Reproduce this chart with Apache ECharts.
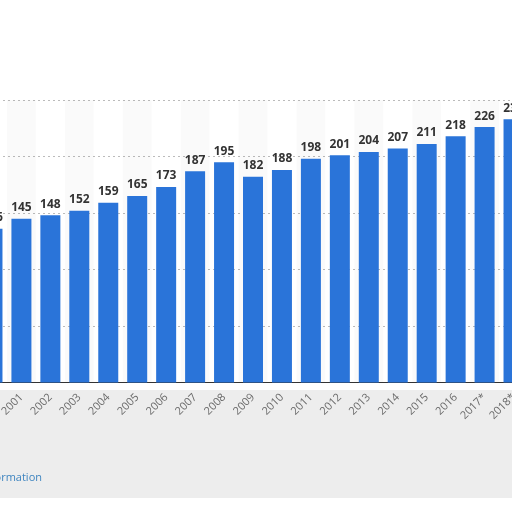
<!DOCTYPE html>
<html>
<head>
<meta charset="utf-8">
<script src="https://cdn.jsdelivr.net/npm/echarts@6/dist/echarts.min.js"></script>
<style>
  html, body { margin: 0; padding: 0; background: #fff; overflow: hidden; }
  #main { position: absolute; left: -22px; top: 0; width: 550px; height: 512px; }
</style>
</head>
<body>
<div id="main"></div>
<script>
  // data
  var years = ['2000','2001','2002','2003','2004','2005','2006','2007','2008','2009',
               '2010','2011','2012','2013','2014','2015','2016','2017*','2018*']
  var values = [136,145,148,152,159,165,173,187,195,182,188,198,201,204,207,211,218,226,233]
  var yTicks = [0, 50, 100, 150, 200, 250]

  var myChart = echarts.init(document.getElementById('main'))

  var option = {
      animation: false,
      grid: { left: 0, right: 0, top: 100, bottom: 129.5, outerBoundsMode: 'none', containLabel: false },
      graphic: [
          { // grey band under the axis
              type: 'rect', z: -10, silent: true,
              shape: { x: 22, y: 390, width: 520, height: 108 },
              style: { fill: '#ededed' }
          },
          {
              type: 'text', right: 486, top: 472,
              style: { text: 'Additional Information', fill: '#3f85c0', fontSize: 11, fontFamily: 'Open Sans' }
          }
      ],
      xAxis: {
          type: 'category',
          data: years,
          axisTick: { show: false },
          axisLine: { lineStyle: { color: '#333', width: 1 } },
          axisLabel: { rotate: 45, color: '#6a6a6a', fontSize: 11, margin: 13, fontFamily: 'Open Sans' },
          // transparent bands so the dotted grid shows through
          splitArea: { show: true, areaStyle: { color: ['rgba(0,0,0,0)', 'rgba(0,0,0,0.018)'] } }
      },
      yAxis: {
          type: 'value',
          min: yTicks[0],
          max: yTicks[yTicks.length - 1],
          interval: 50,
          axisLabel: { show: false },
          axisLine: { show: false },
          axisTick: { show: false },
          splitLine: { lineStyle: { color: '#bbbbbb', type: [2, 3], width: 1 } }
      },
      series: [
          {
              type: 'bar',
              data: values,
              barWidth: 20,
              itemStyle: { color: '#2a74d9' },
              label: {
                  show: true, position: 'top', distance: 5,
                  color: '#333', fontWeight: 'bold', fontSize: 12, fontFamily: 'Open Sans'
              }
          }
      ]
  }

  myChart.setOption(option)
</script>
</body>
</html>
